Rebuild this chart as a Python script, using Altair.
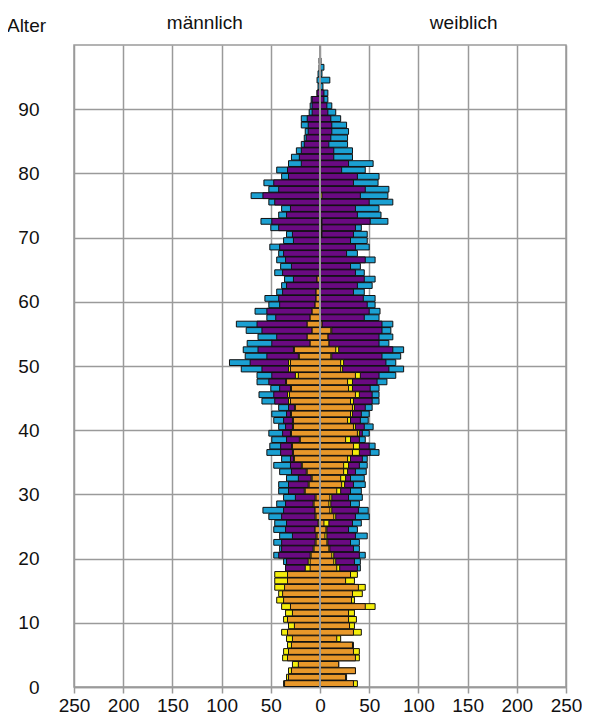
import altair as alt
import pandas as pd

# ages 0..97
ages = list(range(98))

male_cyan = [0]*18 + [35, 37, 47, 41, 47, 41, 47, 46, 52, 58, 44, 37, 42, 42, 34, 41, 47, 39, 54, 51,
             49, 52, 42, 47, 49, 42, 59, 62, 50, 64, 64, 80, 92, 76, 78, 74, 63, 75, 85, 54,
             66, 52, 56, 44, 39, 36, 46, 40, 44, 42, 51, 37, 34, 50, 60, 42, 39, 52, 70, 52,
             57, 39, 44, 32, 29, 24, 19, 16, 15, 19, 19, 11, 10, 9, 3, 2, 3, 2, 1, 1]
male_purple = [0]*18 + [35, 34, 42, 39, 39, 28, 35, 34, 39, 37, 35, 25, 32, 32, 22, 29, 30, 30, 40, 40,
               34, 38, 35, 37, 34, 32, 46, 47, 41, 52, 49, 59, 71, 54, 63, 49, 44, 59, 64, 45,
               54, 41, 42, 38, 34, 27, 38, 29, 35, 37, 41, 27, 28, 42, 49, 34, 30, 46, 58, 42,
               47, 32, 33, 19, 21, 19, 16, 14, 12, 12, 13, 8, 8, 8, 3, 0, 0, 0, 0, 0]
male_yellow = [37, 34, 32, 28, 38, 37, 33, 34, 39, 32, 37, 35, 39, 44, 42, 46, 46, 46,
               15, 12, 10, 7, 5, 4, 5, 2, 5, 5, 7, 5, 16, 12, 9, 14, 19, 27, 28, 29,
               21, 30, 28, 28, 30, 26, 32, 33, 30, 35, 25, 32, 32, 22, 27, 10, 13, 8, 13, 10,
               8, 5, 4, 4, 0, 3] + [0]*34
male_orange = [36, 32, 29, 22, 33, 32, 29, 28, 33, 26, 33, 28, 30, 37, 38, 36, 33, 33,
               10, 10, 9, 6, 4, 3, 5, 1, 4, 5, 6, 4, 15, 11, 8, 13, 18, 26, 27, 28,
               20, 29, 27, 27, 29, 25, 30, 31, 29, 34, 22, 30, 30, 21, 26, 10, 13, 8, 13, 10,
               8, 5, 4, 4, 0, 3] + [0]*34

female_cyan = [0]*18 + [41, 41, 46, 40, 40, 48, 38, 42, 50, 49, 40, 43, 42, 46, 45, 47, 48, 48, 60, 56,
               46, 50, 54, 49, 50, 53, 60, 60, 60, 68, 77, 85, 77, 82, 85, 70, 74, 72, 74, 60,
               61, 56, 56, 45, 53, 56, 45, 41, 56, 38, 50, 48, 48, 42, 69, 62, 60, 74, 69, 70,
               59, 60, 46, 54, 33, 33, 28, 28, 29, 27, 21, 16, 12, 8, 8, 3, 10, 2, 4, 1]
female_purple = [0]*18 + [38, 35, 40, 34, 31, 36, 29, 33, 36, 39, 31, 29, 31, 34, 31, 36, 40, 43, 51, 50,
                 40, 43, 45, 41, 42, 46, 53, 53, 51, 58, 60, 70, 67, 63, 74, 60, 60, 63, 63, 45,
                 50, 48, 44, 34, 38, 45, 36, 31, 46, 27, 36, 31, 34, 36, 51, 38, 36, 50, 41, 46,
                 34, 38, 22, 29, 14, 14, 9, 11, 12, 12, 11, 8, 7, 4, 4, 0, 0, 0, 0, 0]
female_yellow = [38, 27, 36, 19, 40, 40, 34, 21, 42, 35, 37, 35, 56, 35, 43, 46, 35, 38,
                 20, 16, 14, 10, 8, 7, 7, 9, 16, 12, 11, 12, 21, 25, 26, 28, 29, 31, 40, 40,
                 31, 40, 36, 31, 33, 35, 34, 40, 33, 33, 41, 23, 24, 12, 19, 9, 8, 12, 2, 0,
                 0, 0, 0, 0, 0, 0, 0, 0, 0, 0, 0, 0, 2, 2, 2, 0, 0, 0, 2] + [0]*21
female_orange = [34, 26, 36, 19, 36, 34, 33, 17, 34, 30, 29, 29, 46, 32, 33, 39, 26, 31,
                 17, 14, 12, 9, 7, 5, 6, 4, 14, 10, 9, 10, 17, 22, 21, 24, 24, 28, 33, 34,
                 26, 38, 34, 28, 31, 33, 31, 36, 29, 28, 36, 21, 21, 11, 16, 9, 8, 11, 2, 0,
                 0, 0, 0, 0, 0, 0, 0, 0, 0, 0, 0, 0, 1.5, 1.5, 1.5, 0, 0, 0, 0] + [0]*21

x_ticks = list(range(-250, 251, 50))
y_ticks = list(range(0, 91, 10))
side_labels = ["männlich", "weiblich"]
side_label_pos = [-117, 146]

GRAY = "#9a9a9a"
FONT = "Liberation Sans"

x_scale = alt.Scale(domain=[-250, 250], nice=False, zero=False)
y_scale = alt.Scale(domain=[0, 100], nice=False, zero=False)

x_axis = alt.Axis(values=x_ticks, labelExpr="abs(datum.value)", title=None,
                  grid=True, gridColor=GRAY, gridWidth=1.5, domainColor=GRAY, domainWidth=1.5,
                  tickColor=GRAY, tickSize=6, tickWidth=1.5, labelFontSize=19, labelFont=FONT,
                  labelColor="#111111", labelPadding=3, labelFlush=False)
y_axis = alt.Axis(values=y_ticks, title="Alter", titleAngle=0, titleX=-48, titleY=-20,
                  titleAlign="center", titleBaseline="middle", titleFont=FONT,
                  titleFontSize=19, titleFontWeight="normal", titleColor="#111111",
                  grid=True, gridColor=GRAY, gridWidth=1.5, domain=False, ticks=False,
                  labelPadding=35, labelFontSize=19, labelFont=FONT, labelColor="#111111")


def layer(mvals, fvals, color):
    recs = []
    for a, m, f in zip(ages, mvals, fvals):
        if m > 0:
            recs.append({"lo": a + 0.08, "hi": a + 0.98, "v": -m, "z": 0})
        if f > 0:
            recs.append({"lo": a + 0.08, "hi": a + 0.98, "v": f, "z": 0})
    df = pd.DataFrame(recs)
    return alt.Chart(df).mark_bar(color=color, stroke="#111111", strokeWidth=1).encode(
        x=alt.X("v:Q", scale=x_scale, axis=x_axis),
        x2="z:Q",
        y=alt.Y("lo:Q", scale=y_scale, axis=y_axis),
        y2="hi:Q",
    )


cyan = layer(male_cyan, female_cyan, "#1ba0d2")
purple = layer(male_purple, female_purple, "#6a0a82")
yellow = layer(male_yellow, female_yellow, "#f4ee0a")
orange = layer(male_orange, female_orange, "#e8982a")

zero = alt.Chart(pd.DataFrame({"z": [0]})).mark_rule(color=GRAY, strokeWidth=2).encode(
    x=alt.X("z:Q", scale=x_scale, axis=x_axis)
)

titles = alt.Chart(pd.DataFrame({"t": side_labels, "x": side_label_pos})).mark_text(
    font=FONT, fontSize=19, color="#111111", align="center", baseline="middle"
).encode(
    x=alt.X("x:Q", scale=x_scale, axis=x_axis),
    y=alt.value(-22),
    text="t:N",
)

chart = alt.layer(cyan, purple, yellow, orange, zero, titles).properties(
    width=492, height=642,
    autosize=alt.AutoSizeParams(type="none"),
    padding={"left": 66, "top": 37, "right": 16, "bottom": 32},
).configure_view(stroke=GRAY, strokeWidth=1.5)

chart.save("out.html", embed_options={"renderer": "svg", "actions": False})
